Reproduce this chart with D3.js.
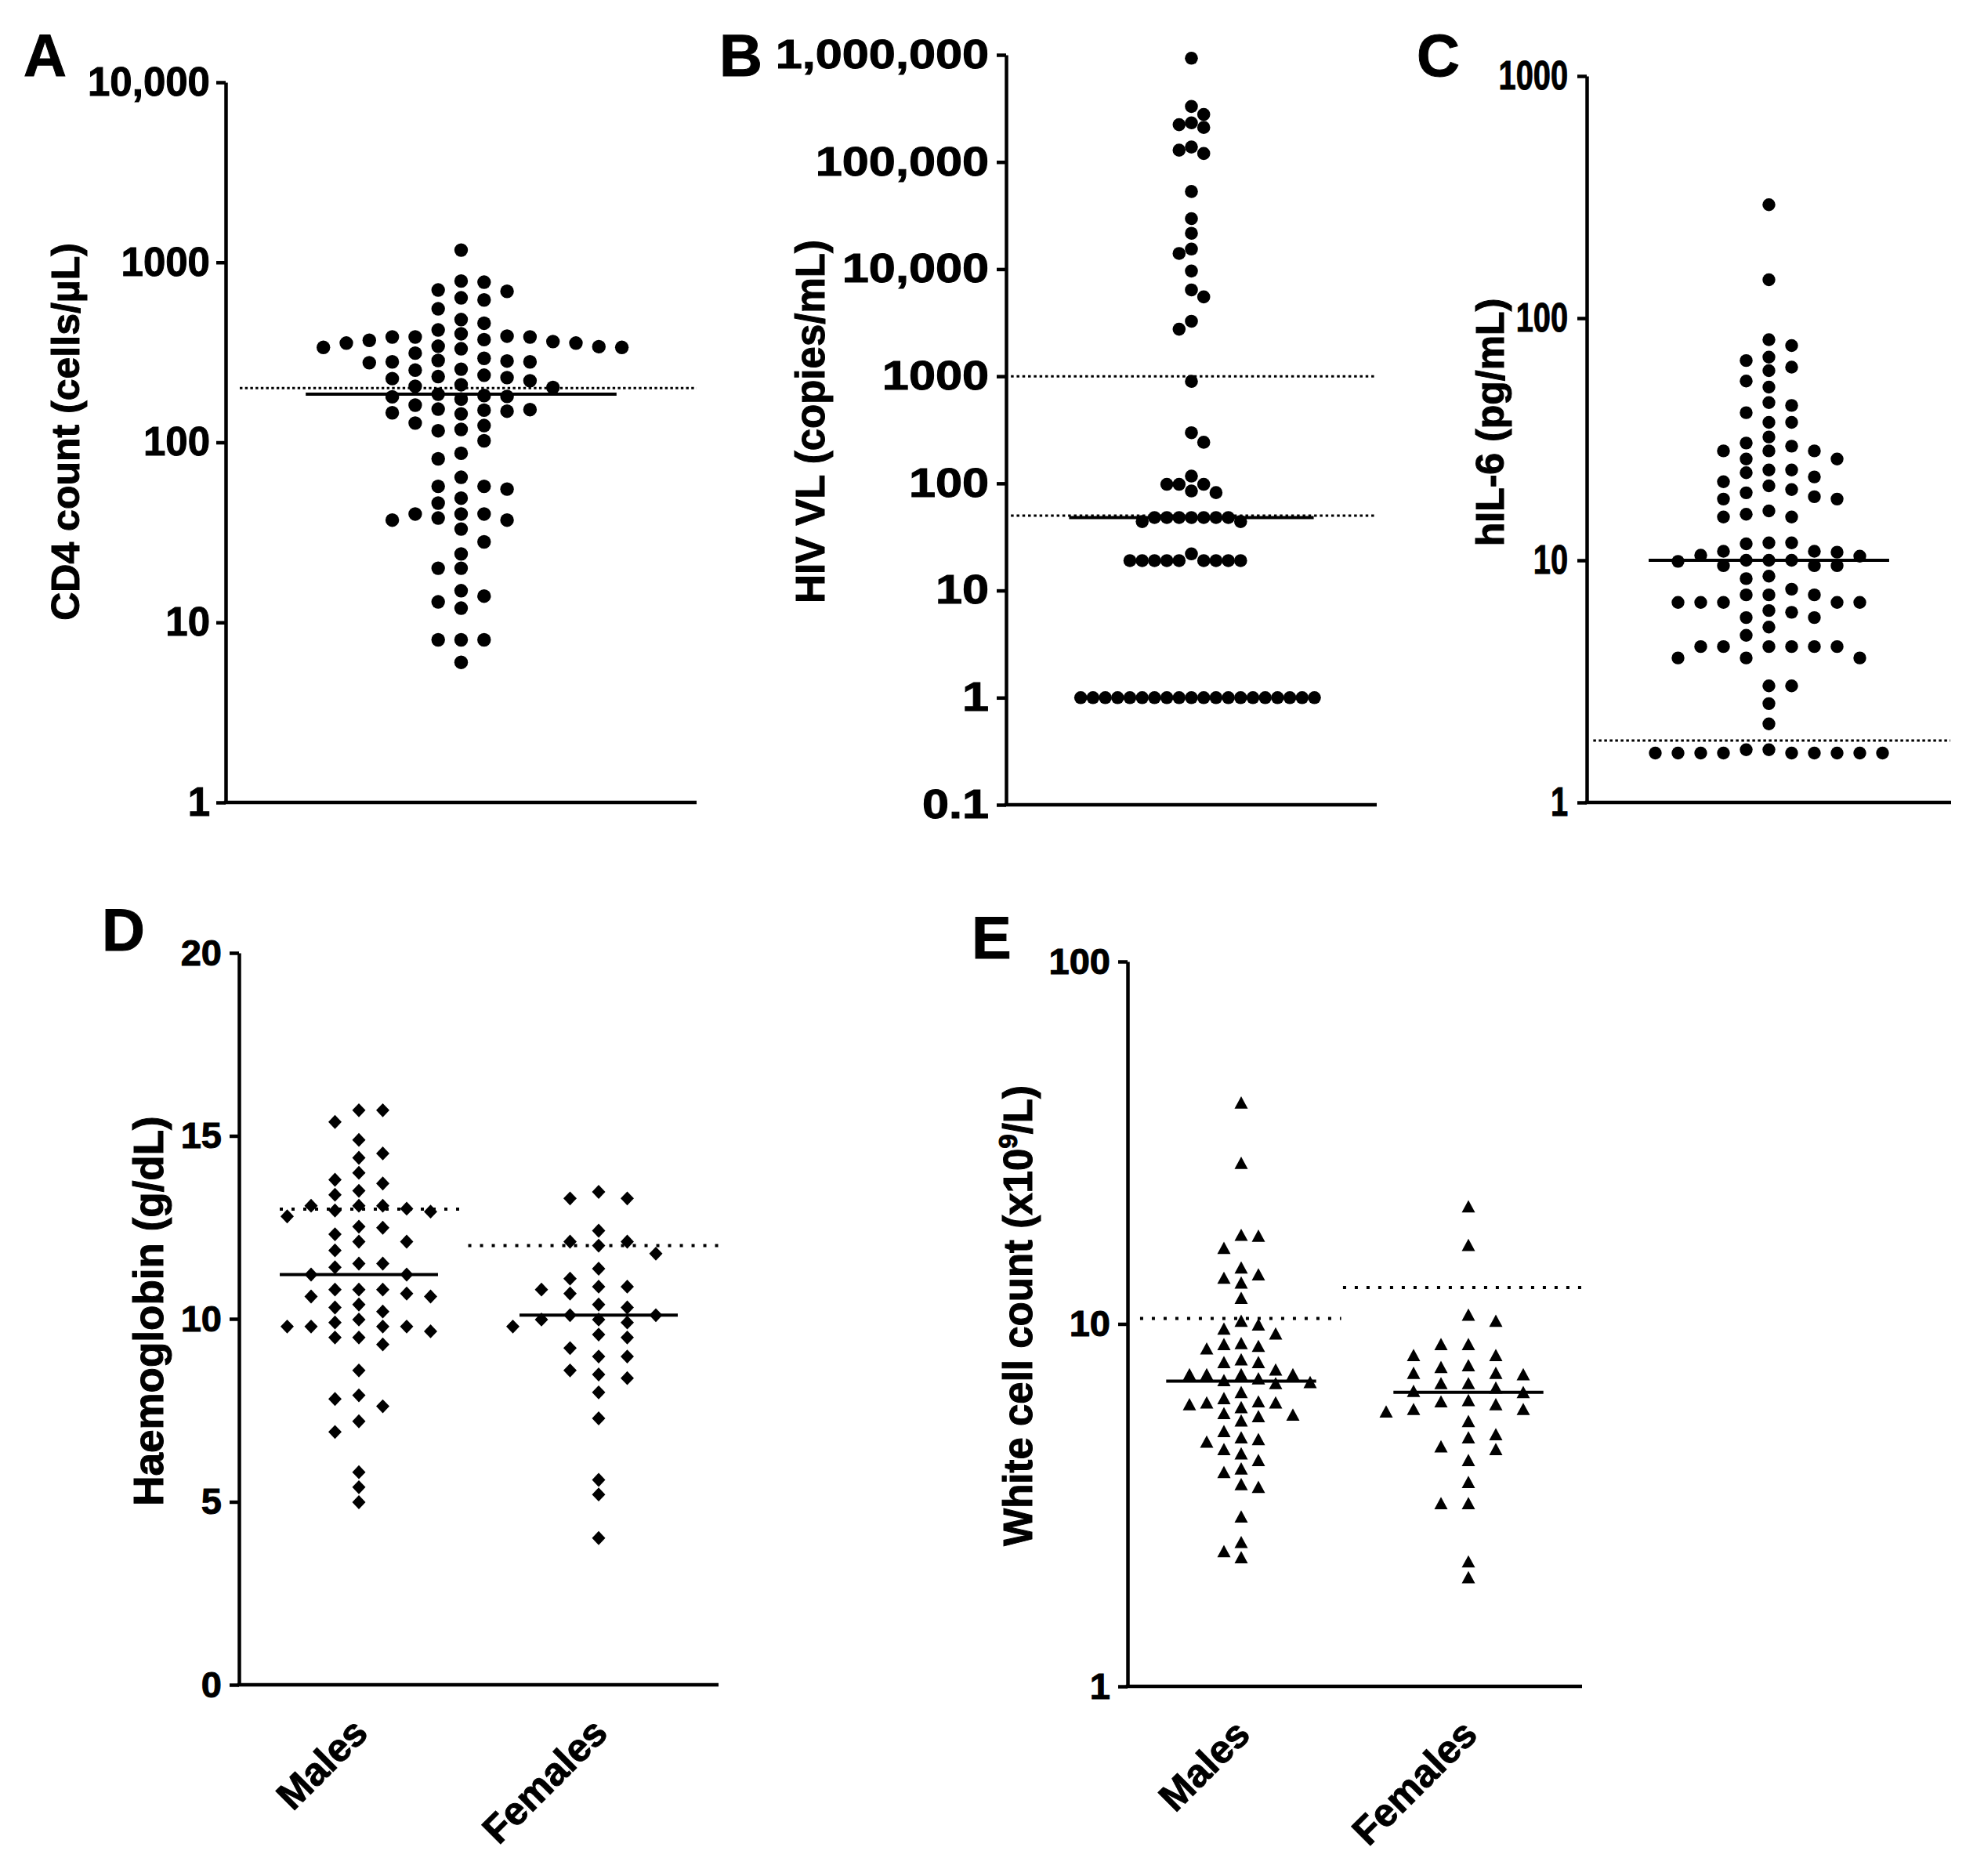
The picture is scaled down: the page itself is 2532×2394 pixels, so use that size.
<!DOCTYPE html>
<html>
<head>
<meta charset="utf-8">
<script src="https://cdn.jsdelivr.net/npm/d3@7"></script>
<style>
  body { margin: 0; background: #fff; }
  text { font-family: "Liberation Sans", Arial, sans-serif; font-weight: bold; fill: #000; stroke: #000; stroke-width: 1px; }
</style>
</head>
<body>
<div id="fig"></div>
<script>

// ---- values ----
var cd4Values = [1170, 702, 776, 690, 787, 635, 552, 618, 481, 459, 421, 385, 356, 356, 340, 363, 337, 401, 337, 369,
  342, 331, 385, 385, 389, 372, 285, 293, 283, 280, 280, 277, 313, 236, 226, 232, 252, 229, 220, 255,
  205, 209, 202, 182, 185, 174, 180, 179, 153, 151, 149, 144, 146, 152, 161, 128, 124, 118, 116, 102,
  87, 81, 64, 57, 55, 57, 49, 46, 40, 40, 37, 38, 37, 40, 33, 28, 24, 20, 20, 14, 15, 13, 12, 8, 8, 8, 6]
var cd4Ref = [200]
var cd4Ticks = [1, 10, 100, 1000, 10000]
var cd4TickLabels = ["1", "10", "100", "1000", "10,000"]

var vlValues = [930000, 330000, 278000, 232000, 223000, 210000, 138000, 129000, 120000,
  53000, 29600, 21600, 15400, 14000, 9600, 6400, 5500, 3260, 2750, 896, 297, 242, 117, 98, 98, 98, 85, 82,
  48, 48, 48, 48, 48, 48, 48, 44, 44, 22, 19, 19, 19, 19, 19, 19, 19, 19, 19,
  1, 1, 1, 1, 1, 1, 1, 1, 1, 1, 1, 1, 1, 1, 1, 1, 1, 1, 1, 1]
var vlRef = [1000, 50]
var vlTicks = [0.1, 1, 10, 100, 1000, 10000, 100000, 1000000]
var vlTickLabels = ["0.1", "1", "10", "100", "1000", "10,000", "100,000", "1,000,000"]

var il6Values = [294, 144, 81.5, 77, 69, 66.8, 62.8, 60.7, 55, 51.9, 44.8, 43.6, 40.7, 37.1, 37.1, 32.3, 30.5, 29.6,
  28.3, 28.3, 28.3, 26.2, 26.2, 23.6, 23, 23.6, 22.1, 21.1, 20.3, 19.6, 18.3, 19, 17.9, 17.9, 16, 15.1, 15.1, 15.5,
  11.7, 11.8, 11.8, 10.8, 10.9, 10.9, 10.4, 10.5, 9.9, 10, 10, 10, 9.5, 9.5, 9.5, 8.6, 8.4, 7.6, 7.2, 7.2, 7.2,
  6.7, 6.7, 6.7, 6.7, 6.7, 6.2, 6.1, 5.8, 5.8, 5.3, 4.9, 4.4, 4.4, 4.4, 4.4, 4.4, 4.4, 3.95, 3.95, 3.95,
  3.03, 3.03, 2.56, 2.11, 1.6, 1.6, 1.6, 1.6, 1.6, 1.6, 1.6, 1.6, 1.6, 1.65, 1.65]
var il6Ref = [1.8]
var il6Ticks = [1, 10, 100, 1000]
var il6TickLabels = ["1", "10", "100", "1000"]

var sexGroups = ["Males", "Females"]

var hbMales = [15.7, 15.7, 15.38, 14.89, 14.52, 14.4, 13.99, 13.7, 13.8, 13.5, 13.39, 13.09, 13.09, 13.09, 12.96,
  13.01, 12.93, 12.8, 12.52, 12.31, 12.49, 12.11, 12.11, 11.87, 11.51, 11.51, 11.41, 11.21, 11.21, 10.69,
  10.8, 10.8, 10.8, 10.61, 10.61, 10.39, 10.31, 10.2, 9.98, 9.66, 9.9, 9.79, 9.79, 9.79, 9.79, 9.49, 9.49,
  9.3, 8.59, 7.91, 7.81, 7.61, 7.2, 6.91, 5.81, 5.4, 4.99]
var hbFemales = [13.47, 13.29, 13.29, 12.41, 12.11, 12.0, 12.11, 11.78, 11.37, 11.1, 10.69, 10.8, 10.88, 10.88,
  10.39, 10.31, 9.98, 10.1, 9.98, 10.1, 9.9, 9.57, 9.79, 9.49, 8.97, 8.97, 9.2, 8.59, 8.48, 8.38, 7.99, 7.28,
  5.6, 5.2, 4.01]
var hbRef = [13, 12]
var hbTicks = [0, 5, 10, 15, 20]
var hbTickLabels = ["0", "5", "10", "15", "20"]

var wbcMales = [40.8, 27.8, 17.5, 17.6, 16.2, 14.3, 13.7, 13.4, 13.0, 11.8, 10.2, 9.96, 9.4, 9.7, 8.55, 8.79, 8.69,
  8.85, 7.84, 7.98, 7.48, 7.84, 7.26, 7.26, 7.26, 7.26, 6.99, 6.91, 7.07, 6.86, 6.48, 6.24, 6.07, 6.11, 5.89,
  6.07, 6.0, 5.62, 5.56, 5.67, 5.41, 4.86, 5.06, 4.73, 4.81, 4.51, 4.21, 4.39, 3.9, 3.99, 3.61, 3.55, 2.94,
  2.5, 2.27, 2.36]
var wbcFemales = [21.1, 16.5, 10.6, 10.2, 8.79, 8.79, 8.2, 8.2, 7.6, 7.69, 7.26, 7.32, 7.32, 6.86, 6.67, 6.86, 6.53,
  6.48, 6.11, 6.16, 6.0, 5.82, 5.82, 5.73, 5.39, 4.96, 4.86, 4.51, 4.59, 4.21, 3.66, 3.2, 3.2, 2.21, 2.0]
var wbcRef = [10.35, 12.6]
var wbcTicks = [1, 10, 100]
var wbcTickLabels = ["1", "10", "100"]


var svg = d3.select("#fig")
    .append("svg")
    .attr("width", 2532)
    .attr("height", 2394)

// marker shapes
var diamond = {draw: function(c, size) { var w = Math.sqrt(size) / 2; c.moveTo(0, -w * 1.05); c.lineTo(w, 0); c.lineTo(0, w * 1.05); c.lineTo(-w, 0); c.closePath(); }}
var triangle = {draw: function(c, size) { var w = Math.sqrt(size) / 2; c.moveTo(0, -w * 0.95); c.lineTo(w, w * 0.9); c.lineTo(-w, w * 0.9); c.closePath(); }}


// greedy column swarm: each point goes to the nearest free slot beside the centre
function swarm(values, y, sx, sy, half)
{
	var step = half ? sx / 2 : sx;
	var pts = values.map(function(v){ return {v: v, y: y(v), off: 0}; })
	                .sort(function(a, b){ return a.y - b.y; });
	var placed = [], flip = 1;

	pts.forEach(function(p)
	{
		function free(o)
		{
			return placed.every(function(q){ return Math.abs(q.off - o) >= sx - 0.01 || Math.abs(q.y - p.y) >= sy; });
		}
		for (var k = 0; k < 200; k++)
		{
			if (k == 0) { if (free(0)) { p.off = 0; break; } continue; }
			var a = flip * k * step;
			if (free(a)) { p.off = a; flip = -flip; break; }
			if (free(-a)) { p.off = -a; break; }
		}
		placed.push(p);
	});
	return pts;
}


function drawPanel(p)
{
	var g = svg.append("g");

	var y = (p.log ? d3.scaleLog() : d3.scaleLinear()).domain(p.domain).range([p.yBot, p.yTop]);
	var x = d3.scaleBand().domain(p.groups.map(function(d){ return d.name; })).range([p.x0, p.x1]);
	var bw = x.bandwidth();

	// y axis
	var axis = d3.axisLeft(y)
	             .tickValues(p.ticks)
	             .tickFormat(function(d, i){ return p.tickLabels[i]; })
	             .tickSize(12)
	             .tickSizeOuter(0);

	var axg = g.append("g")
	           .attr("transform", "translate(" + p.x0 + ",0)")
	           .call(axis);
	axg.select(".domain").attr("stroke", "#000").attr("stroke-width", 4.5);
	axg.selectAll(".tick line").attr("stroke", "#000").attr("stroke-width", 4.5);
	axg.selectAll(".tick text")
	   .attr("font-size", p.tickFont)
	   .attr("font-family", '"Liberation Sans", Arial, sans-serif')
	   .attr("font-weight", "bold")
	   .attr("fill", "#000")
	   .attr("x", -p.labelGap / p.stretch)
	   .attr("transform", "scale(" + p.stretch + ",1)");

	// x axis line
	g.append("line")
	 .attr("x1", p.x0 - 2.25).attr("x2", p.x1)
	 .attr("y1", p.yBot).attr("y2", p.yBot)
	 .attr("stroke", "#000").attr("stroke-width", 4.5);

	p.groups.forEach(function(gr)
	{
		var left = x(gr.name);
		var cx = left + bw / 2;

		var pts = swarm(gr.values, y, gr.sx, p.sy, gr.half);
		var sym = d3.symbol().type(p.marker).size(p.markerSize);

		g.selectAll(null)
		 .data(pts)
		 .enter()
			.append("path")
			.attr("d", sym)
			.attr("transform", function(d){ return "translate(" + (cx + d.off) + "," + d.y + ")"; })
			.attr("fill", "#000");

		// median
		var med = d3.median(gr.values);
		g.append("line")
		 .attr("x1", cx - 0.33 * bw).attr("x2", cx + 0.33 * bw)
		 .attr("y1", y(med)).attr("y2", y(med))
		 .attr("stroke", "#000").attr("stroke-width", 4);

		// reference lines
		gr.refs.forEach(function(r)
		{
			g.append("line")
			 .attr("x1", left + gr.refSpan[0] * bw).attr("x2", left + gr.refSpan[1] * bw)
			 .attr("y1", y(r)).attr("y2", y(r))
			 .attr("stroke", "#000").attr("stroke-width", p.dotWidth)
			 .attr("stroke-dasharray", p.dash);
		});

		if (p.showGroups)
		{
			g.append("text")
			 .attr("transform", "translate(" + (cx + 14) + "," + (p.yBot + 64) + ") rotate(-45)")
			 .attr("text-anchor", "end")
			 .attr("font-size", 50)
			 .text(gr.name);
		}
	});

	// axis title
	var t = g.append("text")
	         .attr("transform", "translate(" + p.titlePos[0] + "," + p.titlePos[1] + ") rotate(-90)")
	         .attr("text-anchor", "middle")
	         .attr("dy", "0.3em")
	         .attr("font-size", p.titleFont);
	p.title.forEach(function(s)
	{
		var ts = t.append("tspan").text(s.t);
		if (s.sup) ts.attr("font-size", p.titleFont * 0.65).attr("dy", -p.titleFont * 0.38);
		if (s.down) ts.attr("dy", p.titleFont * 0.38);
	});

	// panel letter
	g.append("text")
	 .attr("x", p.letterPos[0]).attr("y", p.letterPos[1])
	 .attr("font-size", 76)
	 .text(p.letter);
}


drawPanel({letter: "A", letterPos: [30, 97],
	x0: 288, x1: 889, yTop: 105, yBot: 1024, log: true, domain: [1, 10000],
	ticks: cd4Ticks, tickLabels: cd4TickLabels, tickFont: 51, stretch: 1, labelGap: 20,
	title: [{t: "CD4 count (cells/\u00b5L)"}], titlePos: [86, 551], titleFont: 50,
	marker: d3.symbolCircle, markerSize: Math.PI * 8.7 * 8.7, sy: 18,
	dotWidth: 3, dash: "3.4,3.3",
	groups: [{name: "all", values: cd4Values, refs: cd4Ref, refSpan: [0.03, 1.0], sx: 29.3, half: false}]});

drawPanel({letter: "B", letterPos: [918, 97],
	x0: 1284, x1: 1757, yTop: 70, yBot: 1027, log: true, domain: [0.1, 1000000],
	ticks: vlTicks, tickLabels: vlTickLabels, tickFont: 51, stretch: 1.2, labelGap: 22,
	title: [{t: "HIV VL (copies/mL)"}], titlePos: [1037, 538], titleFont: 51,
	marker: d3.symbolCircle, markerSize: Math.PI * 8.3 * 8.3, sy: 15.7,
	dotWidth: 3, dash: "3.5,3.8",
	groups: [{name: "all", values: vlValues, refs: vlRef, refSpan: [0.013, 0.996], sx: 15.7, half: true}]});

drawPanel({letter: "C", letterPos: [1808, 97],
	x0: 2025, x1: 2490, yTop: 97, yBot: 1024, log: true, domain: [1, 1000],
	ticks: il6Ticks, tickLabels: il6TickLabels, tickFont: 51, stretch: 0.78, labelGap: 24,
	title: [{t: "hIL-6 (pg/mL)"}], titlePos: [1904, 539], titleFont: 50,
	marker: d3.symbolCircle, markerSize: Math.PI * 8.2 * 8.2, sy: 17,
	dotWidth: 3, dash: "3.5,3.5",
	groups: [{name: "all", values: il6Values, refs: il6Ref, refSpan: [0.018, 0.998], sx: 29, half: false}]});

drawPanel({letter: "D", letterPos: [130, 1213],
	x0: 305, x1: 917, yTop: 1216, yBot: 2150, log: false, domain: [0, 20],
	ticks: hbTicks, tickLabels: hbTickLabels, tickFont: 47, stretch: 1, labelGap: 22,
	title: [{t: "Haemoglobin (g/dL)"}], titlePos: [192, 1673], titleFont: 53,
	marker: diamond, markerSize: 17 * 17, sy: 18.5, showGroups: true,
	dotWidth: 4, dash: "4,11",
	groups: [{name: sexGroups[0], values: hbMales, refs: [hbRef[0]], refSpan: [0.17, 0.93], sx: 30.5, half: true},
	         {name: sexGroups[1], values: hbFemales, refs: [hbRef[1]], refSpan: [-0.044, 1.0], sx: 36.5, half: true}]});

drawPanel({letter: "E", letterPos: [1240, 1223],
	x0: 1439, x1: 2019, yTop: 1227, yBot: 2152, log: true, domain: [1, 100],
	ticks: wbcTicks, tickLabels: wbcTickLabels, tickFont: 47, stretch: 1, labelGap: 22,
	title: [{t: "White cell count (x10"}, {t: "9", sup: true}, {t: "/L)", down: true}], titlePos: [1302, 1679], titleFont: 51,
	marker: triangle, markerSize: 17 * 17, sy: 17, showGroups: true,
	dotWidth: 4, dash: "4,11",
	groups: [{name: sexGroups[0], values: wbcMales, refs: [wbcRef[0]], refSpan: [0.055, 0.94], sx: 22, half: false},
	         {name: sexGroups[1], values: wbcFemales, refs: [wbcRef[1]], refSpan: [-0.052, 1.0], sx: 35, half: true}]});

</script>
</body>
</html>
